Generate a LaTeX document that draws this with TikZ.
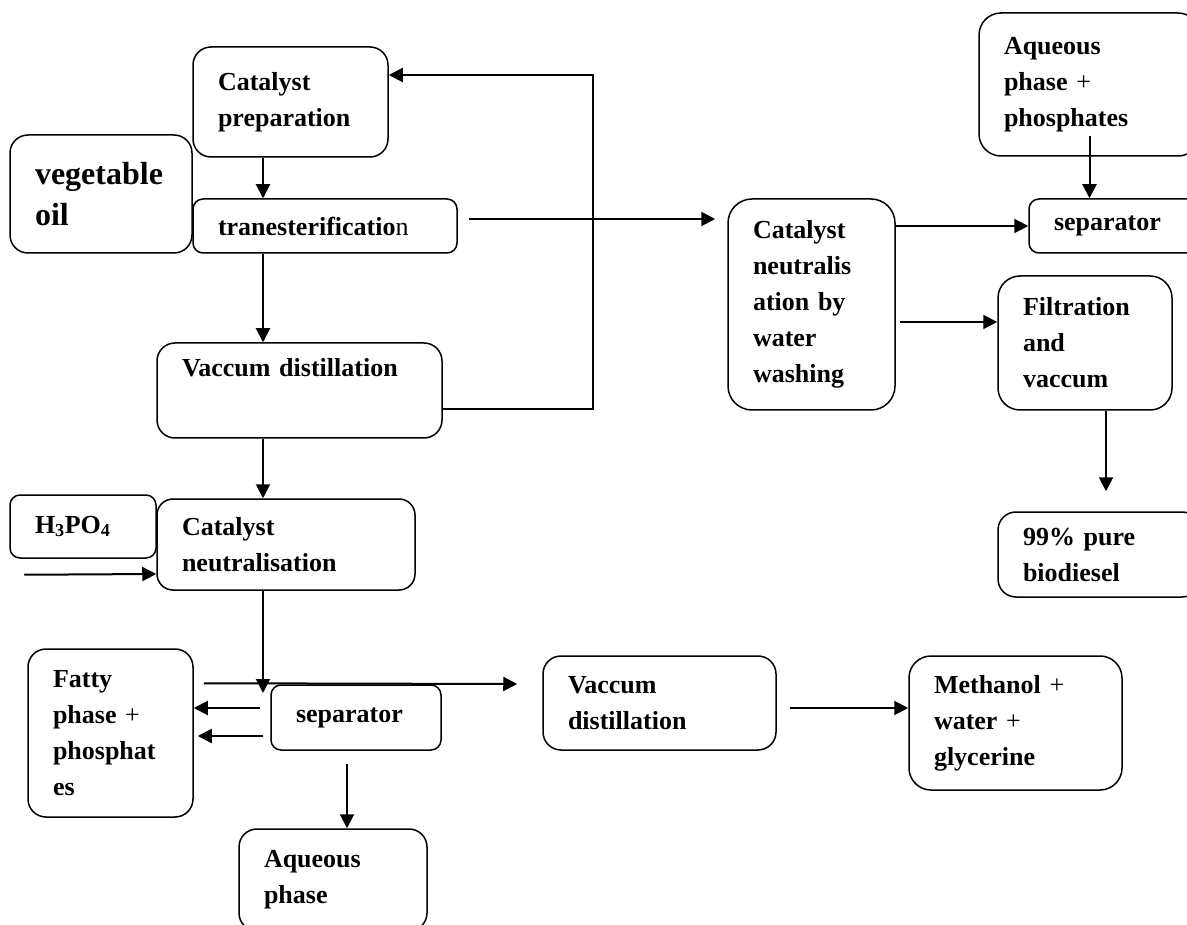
\documentclass[tikz,border=0pt]{standalone}
\usepackage{fontspec}
\setmainfont{Liberation Serif}
\usetikzlibrary{arrows.meta,calc}

\tikzset{
  stage/.style={draw, line width=1.5pt, rounded corners=18pt, align=left, inner xsep=25pt, inner ysep=4pt, font=\bfseries\fontsize{26}{36}\selectfont},
  thin stage/.style={stage, rounded corners=10pt},
  flow/.style={->, line width=2pt}
}

\begin{document}
\begin{tikzpicture}[x=1pt, y=-1pt, >={Triangle[length=14pt,width=14pt]}]
\useasboundingbox (0,0) rectangle (1187,925);

% left column
\node[stage, text width=145pt, minimum height=110pt] (prep) at (290.5,102) {Catalyst\\preparation};
\node[stage, text width=132pt, minimum height=118pt, font=\bfseries\fontsize{32}{41}\selectfont] (oil) at (101,194) {vegetable\\oil};
\node[thin stage, text width=214pt, minimum height=54pt] (trans) at (325,226) {tranesterificatio\textmd{n}};
\node[stage, text width=235pt, minimum height=95pt] (vac1) at (299.5,390.5) {Vaccum distillation\\ \strut};
\node[thin stage, text width=96pt, minimum height=63pt] (acid) at (83,526.5) {H\textsubscript{3}PO\textsubscript{4}};
\node[stage, text width=208pt, minimum height=91pt, rounded corners=16pt] (neut) at (286,544.5) {Catalyst\\neutralisation};
\node[stage, text width=115pt, minimum height=168pt] (fatty) at (110.5,733) {Fatty\\phase \textmd{+}\\phosphat\\es};
\node[thin stage, text width=120pt, minimum height=65pt] (sep2) at (356,717.5) {separator};
\node[stage, text width=138pt, minimum height=102pt] (aq) at (333,880) {Aqueous\\phase};

% right side
\node[stage, text width=117pt, minimum height=211pt, rounded corners=24pt] (wash) at (811.5,304.5) {Catalyst\\neutralis\\ation by\\water\\washing};
\node[stage, text width=171pt, minimum height=143pt, rounded corners=22pt] (aqph) at (1089.5,84.5) {Aqueous\\phase \textmd{+}\\phosphates};
\node[thin stage, text width=121pt, minimum height=54pt] (sep1) at (1114.5,226) {separator};
\node[stage, text width=124pt, minimum height=134pt, rounded corners=22pt] (filt) at (1085,343) {Filtration\\and\\vaccum};
\node[stage, text width=152pt, minimum height=85pt] (pure) at (1099,554.5) {99\% pure\\biodiesel};
\node[stage, text width=183pt, minimum height=94pt] (vac2) at (659.5,703) {Vaccum\\distillation};
\node[stage, text width=163pt, minimum height=134pt, rounded corners=22pt] (meth) at (1015.5,723) {Methanol \textmd{+}\\water \textmd{+}\\glycerine};

\coordinate (spine) at (263,0);
\coordinate (ret) at (593,75);
\coordinate (sepin) at (263,693);

% main line
\draw[flow] (prep.south -| spine) -- (trans.north -| spine);
\draw[flow] (trans.south -| spine) -- (vac1.north -| spine);
\draw[flow] (vac1.south -| spine) -- (neut.north -| spine);
\draw[flow] (neut.south -| spine) -- (sepin);
\draw[flow] ([yshift=-18.5pt]vac1.east) -| (ret) -- ([yshift=27pt]prep.east);
\draw[flow] ($(acid.south west)+(15,16)$) -- ($(neut.west)+(0,29.5)$);

% lower separator
\draw[flow] ($(fatty.north east)+(10,35)$) -- ($(vac2.west)+(-25,-19)$);
\draw[flow] ($(sep2.west)+(-10,-9.5)$) -- ($(fatty.east |- sep2.west)+(0,-9.5)$);
\draw[flow] ($(sep2.west)+(-7,18.5)$) -- ($(fatty.east |- sep2.west)+(4,18.5)$);
\draw[flow] ($(sep2.south)+(-9,13)$) -- ($(aq.north)+(14,0)$);
\draw[flow] ($(vac2.east)+(13,5)$) -- ($(meth.west)+(0,-15)$);

% washing branch
\draw[flow] ($(trans.east)+(11,-7)$) -- ($(wash.west |- trans.east)+(-12,-7)$);
\draw[flow] (sep1.west -| wash.east) -- (sep1.west);
\draw[flow] ($(aqph.south)+(0,-21)$) -- (sep1.north -| aqph.south);
\draw[flow] ($(wash.east)+(4,17.5)$) -- ($(filt.west)+(0,-21)$);
\draw[flow] ($(filt.south)+(21,0)$) -- ($(pure.north)+(7,-20)$);
\end{tikzpicture}
\end{document}
